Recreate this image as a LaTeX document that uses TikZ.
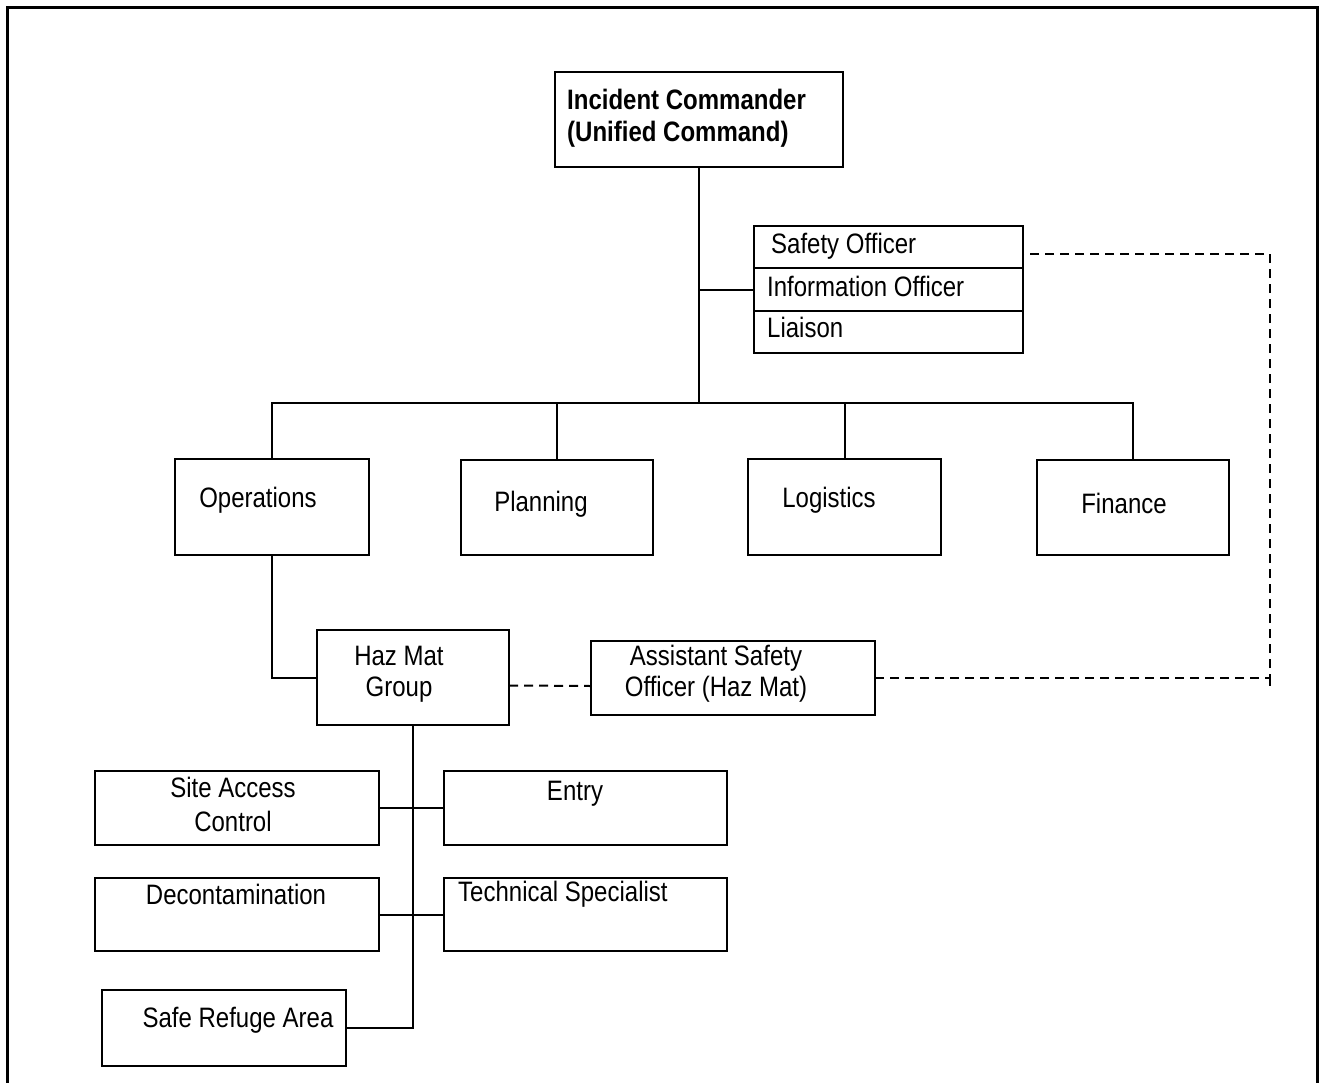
\documentclass[tikz,border=0pt]{standalone}
\usepackage{fontspec}
\usepackage{graphicx}
\setmainfont{Liberation Sans}
\newcommand{\tall}[1]{\scalebox{1}[1.17]{#1}}
\begin{document}
\begin{tikzpicture}[x=1pt,y=-1pt,
  box/.style={draw, line width=2.2pt, inner sep=0pt, outer sep=0pt},
  lbl/.style={inner sep=0pt, font=\fontsize{24}{32}\selectfont, align=center},
  conn/.style={line width=2pt},
  dconn/.style={line width=2pt, dash pattern=on 9pt off 6pt}]
\useasboundingbox (0,0) rectangle (1320,1082);
\draw[line width=3pt] (7,1095) -- (7,7) -- (1317,7) -- (1317,1095);

% boxes
\node[box, minimum width=288pt, minimum height=95pt] (ic) at (699,119.5) {};
\node[box, minimum width=269pt, minimum height=42pt] (safety) at (888.5,247) {};
\node[box, minimum width=269pt, minimum height=43pt] (info) at (888.5,289.5) {};
\node[box, minimum width=269pt, minimum height=42pt] (liaison) at (888.5,332) {};
\node[box, minimum width=194pt, minimum height=96pt] (ops) at (272,507) {};
\node[box, minimum width=192pt, minimum height=95pt] (plan) at (557,507.5) {};
\node[box, minimum width=193pt, minimum height=96pt] (logi) at (844.5,507) {};
\node[box, minimum width=192pt, minimum height=95pt] (fin) at (1133,507.5) {};
\node[box, minimum width=192pt, minimum height=95pt] (haz) at (413,677.5) {};
\node[box, minimum width=284pt, minimum height=74pt] (asst) at (733,678) {};
\node[box, minimum width=284pt, minimum height=74pt] (site) at (237,808) {};
\node[box, minimum width=283pt, minimum height=74pt] (entry) at (585.5,808) {};
\node[box, minimum width=284pt, minimum height=73pt] (decon) at (237,914.5) {};
\node[box, minimum width=283pt, minimum height=73pt] (tech) at (585.5,914.5) {};
\node[box, minimum width=244pt, minimum height=76pt] (safe) at (224,1028) {};

% texts
\node[lbl, anchor=west, align=left, font=\fontsize{24}{32}\selectfont\bfseries] (ict) at (567,118) {\tall{Incident Commander}\\\tall{(Unified Command)}};
\node[lbl, anchor=west] (sot) at (771,246) {\tall{Safety Officer}};
\node[lbl, anchor=west] (iot) at (767,286) {\tall{Information Officer}};
\node[lbl, anchor=west] (lit) at (767,327) {\tall{Liaison}};
\node[lbl] (opt) at (258,500) {\tall{Operations}};
\node[lbl] (plt) at (541,504) {\tall{Planning}};
\node[lbl] (lgt) at (829,500) {\tall{Logistics}};
\node[lbl] (fit) at (1124,503) {\tall{Finance}};
\node[lbl, font=\fontsize{24}{31}\selectfont] (hzt) at (399,674) {\tall{Haz Mat}\\\tall{Group}};
\node[lbl, font=\fontsize{24}{31}\selectfont] (ast) at (716,674) {\tall{Assistant Safety}\\\tall{Officer (Haz Mat)}};
\node[lbl, font=\fontsize{24}{34}\selectfont] (sct) at (233,804) {\tall{Site Access}\\\tall{Control}};
\node[lbl] (ent) at (575,794) {\tall{Entry}};
\node[lbl] (dct) at (236,894) {\tall{Decontamination}};
\node[lbl, anchor=west] (tst) at (458,894) {\tall{Technical Specialist}};
\node[lbl] (srt) at (238,1020) {\tall{Safe Refuge Area}};

% connectors
\coordinate (bus) at (699,403);
\draw[conn] (ic.south) -- (bus);
\draw[conn] (ic.south |- info.west) -- (info.west);
\draw[conn] (ops.north) -- (ops.north |- bus) -- (fin.north |- bus) -- (fin.north);
\draw[conn] (plan.north) -- (plan.north |- bus);
\draw[conn] (logi.north) -- (logi.north |- bus);
\draw[conn] (ops.south) |- (haz.west);
\draw[conn] (haz.south) -- (haz.south |- safe.east) -- (safe.east);
\draw[conn] (site.east) -- (entry.west);
\draw[conn] (decon.east) -- (tech.west);

% dashed
\coordinate (dk) at (1270,0);
\coordinate (sd) at ([yshift=-7pt]safety.east);
\draw[dconn] ([yshift=-8pt]haz.east) -- ([yshift=-8pt]asst.west);
\draw[dconn] (asst.east) -| (sd -| dk) -- (sd);
\draw[dconn] (asst.east -| dk) -- ++(0,8);
\end{tikzpicture}
\end{document}
